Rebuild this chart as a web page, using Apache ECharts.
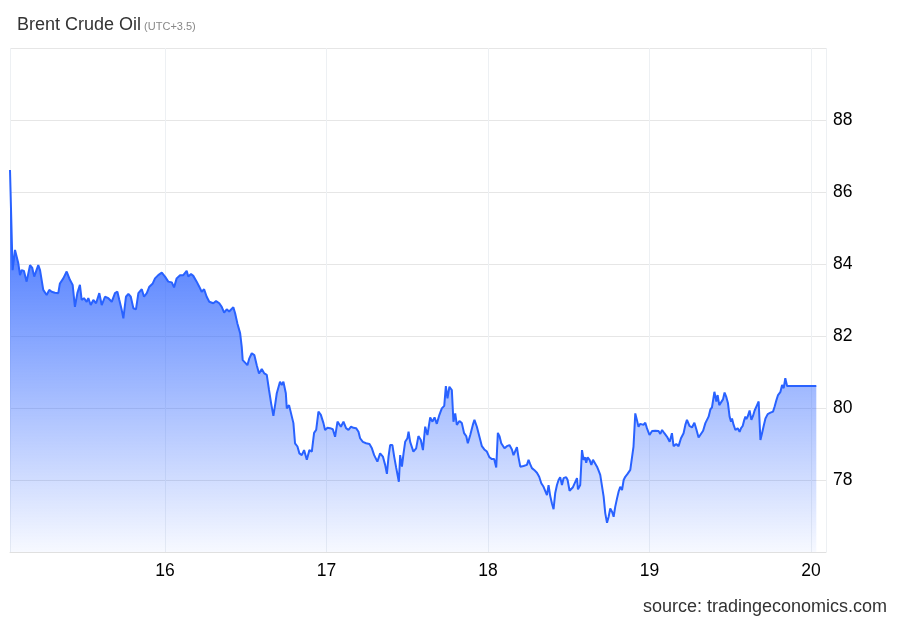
<!DOCTYPE html>
<html>
<head>
    <meta charset="utf-8">
    <title>Brent Crude Oil</title>
    <script src="https://cdn.jsdelivr.net/npm/echarts@6/dist/echarts.min.js"></script>
    <style>
        html, body { margin: 0; padding: 0; background: #fff; }
        #chart { width: 900px; height: 624px; }
    </style>
</head>
<body>
    <div id="chart"></div>
    <script>
        // 时间（日，含小数）
        var times = [
            15.040,15.056,15.071,15.081,15.091,15.102,15.112,15.126,15.143,15.164,15.178,15.190,15.215,15.226,15.246,15.267,15.283,15.298,15.318,15.339,
            15.349,15.370,15.391,15.411,15.428,15.442,15.457,15.473,15.484,15.498,15.515,15.525,15.540,15.556,15.573,15.593,15.608,15.628,15.649,15.670,15.690,15.705,15.717,15.732,
            15.742,15.758,15.773,15.788,15.804,15.820,15.835,15.856,15.870,15.887,15.903,15.924,15.938,15.958,15.980,16.000,
            16.020,16.042,16.056,16.072,16.093,16.113,16.134,16.144,16.161,16.175,16.196,16.212,16.227,16.242,16.258,16.274,16.299,16.316,16.336,16.351,16.366,16.382,16.397,16.407,16.423,16.434,
            16.448,16.465,16.475,16.481,16.496,16.510,16.522,16.537,16.553,16.568,16.582,16.599,16.615,16.630,16.644,16.657,16.671,16.683,16.692,16.702,16.712,16.723,16.733,16.748,16.754,16.768,16.779,
            16.795,16.805,16.820,16.832,16.847,16.861,16.878,16.894,16.909,16.923,16.936,16.950,16.965,16.981,16.991,17.006,17.022,17.039,17.053,17.068,17.078,
            17.089,17.105,17.121,17.136,17.152,17.167,17.183,17.198,17.208,17.225,17.245,17.266,17.281,17.295,17.307,17.315,17.332,17.349,17.363,17.374,17.384,17.394,17.408,17.419,
            17.431,17.439,17.448,17.456,17.467,17.477,17.487,17.501,17.508,17.518,17.529,17.538,17.555,17.569,17.584,17.597,17.611,17.625,17.642,17.656,17.669,17.683,17.699,17.714,17.729,17.739,17.749,17.761,17.776,
            17.786,17.797,17.807,17.823,17.838,17.852,17.865,17.875,17.890,17.906,17.916,17.931,17.947,17.962,17.977,17.993,18.009,18.024,18.038,18.051,
            18.061,18.071,18.082,18.092,18.102,18.117,18.133,18.148,18.158,18.169,18.179,18.189,18.200,18.210,18.220,18.230,18.241,18.251,18.261,18.272,18.286,18.303,18.317,18.330,18.344,18.354,18.365,18.375,
            18.385,18.396,18.406,18.416,18.427,18.437,18.447,18.458,18.468,18.484,18.493,18.505,18.516,18.526,18.536,18.551,18.557,18.571,18.582,18.592,18.602,18.608,18.617,18.629,18.640,18.650,18.660,18.675,18.685,18.695,18.706,
            18.716,18.726,18.737,18.747,18.757,18.768,18.778,18.788,18.799,18.809,18.819,18.830,18.840,18.850,18.864,18.881,18.892,18.901,18.912,18.922,18.932,18.943,18.963,18.974,18.984,19.000,
            19.016,19.036,19.056,19.067,19.078,19.092,19.109,19.125,19.139,19.149,19.166,19.180,19.195,19.211,19.222,19.232,19.248,19.263,19.278,19.290,19.304,19.315,19.332,19.346,19.356,19.366,
            19.377,19.387,19.394,19.402,19.414,19.422,19.432,19.443,19.455,19.465,19.476,19.486,19.496,19.505,19.511,19.521,19.532,19.546,19.558,19.567,19.577,19.587,19.594,19.600,19.608,19.620,19.631,19.641,19.651,19.666,19.676,
            19.682,19.687,19.697,19.707,19.718,19.732,19.749,19.765,19.775,19.786,19.796,19.811,19.821,19.831,19.841,19.852,19.872,20.033
        ];

        // 价格（美元/桶）
        var prices = [
            86.61,83.83,84.39,84.44,84.03,83.69,83.83,83.81,83.51,83.97,83.89,83.65,83.97,83.83,83.28,83.14,83.28,83.23,83.20,83.19,
            83.46,83.60,83.79,83.56,83.42,82.81,83.19,83.42,83.00,83.05,82.95,83.05,82.86,83.00,82.91,83.19,82.86,83.09,83.05,82.95,83.19,83.23,83.00,82.72,
            82.49,83.09,83.17,83.09,82.77,82.74,83.19,83.30,83.09,83.19,83.37,83.46,83.60,83.69,83.76,83.65,
            83.51,83.49,83.35,83.60,83.69,83.69,83.81,83.65,83.72,83.67,83.51,83.37,83.23,83.30,83.09,82.95,82.91,82.97,82.91,82.81,82.65,82.74,82.68,82.63,82.80,82.63,
            82.35,82.08,81.70,81.33,81.26,81.19,81.38,81.52,81.47,81.19,80.96,81.08,80.96,80.92,80.50,80.13,79.78,80.13,80.41,80.45,80.73,80.64,80.73,80.41,79.99,80.08,80.04,
            79.58,79.02,78.93,78.74,78.69,78.83,78.56,78.83,78.79,79.31,79.39,79.90,79.81,79.58,79.39,79.45,79.44,79.41,79.20,79.62,79.67,
            79.48,79.62,79.44,79.39,79.48,79.45,79.44,79.34,79.16,79.06,79.02,79.00,78.88,78.69,78.74,78.51,78.74,78.65,78.42,78.17,78.65,78.97,78.97,78.65,
            78.35,78.39,77.95,78.69,78.37,78.74,79.06,79.16,79.34,79.06,79.11,78.79,78.88,79.22,79.11,78.83,79.48,79.25,79.74,79.62,79.74,79.56,79.81,79.99,80.06,80.61,80.27,80.59,80.50,
            79.62,79.85,79.53,79.64,79.58,79.30,79.22,79.02,79.25,79.53,79.67,79.48,79.20,78.94,78.85,78.79,78.63,78.58,78.58,78.35,
            79.31,79.22,79.02,79.04,78.88,78.94,78.97,78.85,78.69,78.74,78.91,78.63,78.37,78.33,78.39,78.35,78.42,78.56,78.44,78.33,78.28,78.20,78.09,77.91,77.81,77.86,77.58,77.86,
            77.56,77.35,77.19,77.63,77.86,78.00,78.08,77.86,78.05,78.08,78.00,77.70,77.68,77.80,77.81,78.05,77.74,77.86,78.83,78.56,78.63,78.48,78.63,78.56,78.42,78.56,78.51,78.37,78.26,78.14,78.14,
            77.54,77.08,76.81,76.98,77.21,77.12,76.98,77.26,77.49,77.68,77.81,77.72,78.00,78.09,78.17,78.28,78.33,78.93,79.85,79.67,79.48,79.56,79.53,79.59,79.44,79.25,
            79.36,79.37,79.36,79.28,79.39,79.30,79.20,79.06,79.30,78.94,79.00,78.94,79.16,79.30,79.53,79.67,79.50,79.46,79.59,79.41,79.18,79.20,79.37,79.58,79.56,79.76,
            79.96,80.02,80.22,80.45,80.18,80.36,80.08,80.13,80.24,80.43,80.30,80.13,79.76,79.62,79.71,79.53,79.39,79.44,79.34,79.44,79.50,79.67,79.76,79.69,79.76,79.93,79.67,79.78,79.93,80.08,80.18,
            79.58,79.11,79.30,79.50,79.71,79.83,79.87,79.90,80.04,80.22,80.36,80.45,80.64,80.55,80.83,80.61,80.61,80.61
        ];

        var seriesData = times.map(function (t, i) { return [t, prices[i]]; });

        var font = '"Liberation Sans", Arial, sans-serif';
        var chart = echarts.init(document.getElementById('chart'));
        chart.setOption({
            animation: false,
            textStyle: { fontFamily: font },
            title: {
                text: '{a|Brent Crude Oil}{b| (UTC+3.5)}',
                left: 12,
                top: 11,
                textStyle: {
                    rich: {
                        a: { fontSize: 18, color: '#333', fontWeight: 'normal', fontFamily: font },
                        b: { fontSize: 11, color: '#888', fontWeight: 'normal', fontFamily: font, padding: [4, 0, 0, 0] }
                    }
                }
            },
            graphic: [{
                type: 'text',
                right: 13,
                top: 598,
                style: {
                    text: 'source: tradingeconomics.com',
                    fontSize: 18,
                    fill: '#333',
                    fontFamily: font
                }
            }],
            grid: { left: 10, right: 74, top: 48, bottom: 72 },
            xAxis: {
                type: 'value',
                min: 15.04,
                max: 20.093,
                axisLine: { show: true, lineStyle: { color: '#e0e0e0' } },
                axisTick: { show: false },
                axisLabel: {
                    fontSize: 17.5, color: '#000', margin: 10,
                    showMinLabel: false, showMaxLabel: false
                },
                splitLine: { show: true, lineStyle: { color: '#edf0f3' } }
            },
            yAxis: {
                type: 'value',
                position: 'right',
                min: 76,
                max: 90,
                interval: 2,
                axisLine: { show: false },
                axisTick: { show: false },
                axisLabel: {
                    fontSize: 17.5, color: '#000', margin: 7,
                    showMinLabel: false, showMaxLabel: false
                },
                splitLine: { show: true, lineStyle: { color: '#e6e6e6' } }
            },
            series: [{
                type: 'line',
                data: seriesData,
                showSymbol: false,
                lineStyle: { color: '#2962ff', width: 2 },
                itemStyle: { color: '#2962ff' },
                areaStyle: {
                    opacity: 1,
                    color: new echarts.graphic.LinearGradient(0, 0, 0, 1, [
                        { offset: 0, color: 'rgba(45,100,255,1)' },
                        { offset: 1, color: 'rgba(45,100,255,0.04)' }
                    ])
                }
            }]
        });
    </script>
</body>
</html>
